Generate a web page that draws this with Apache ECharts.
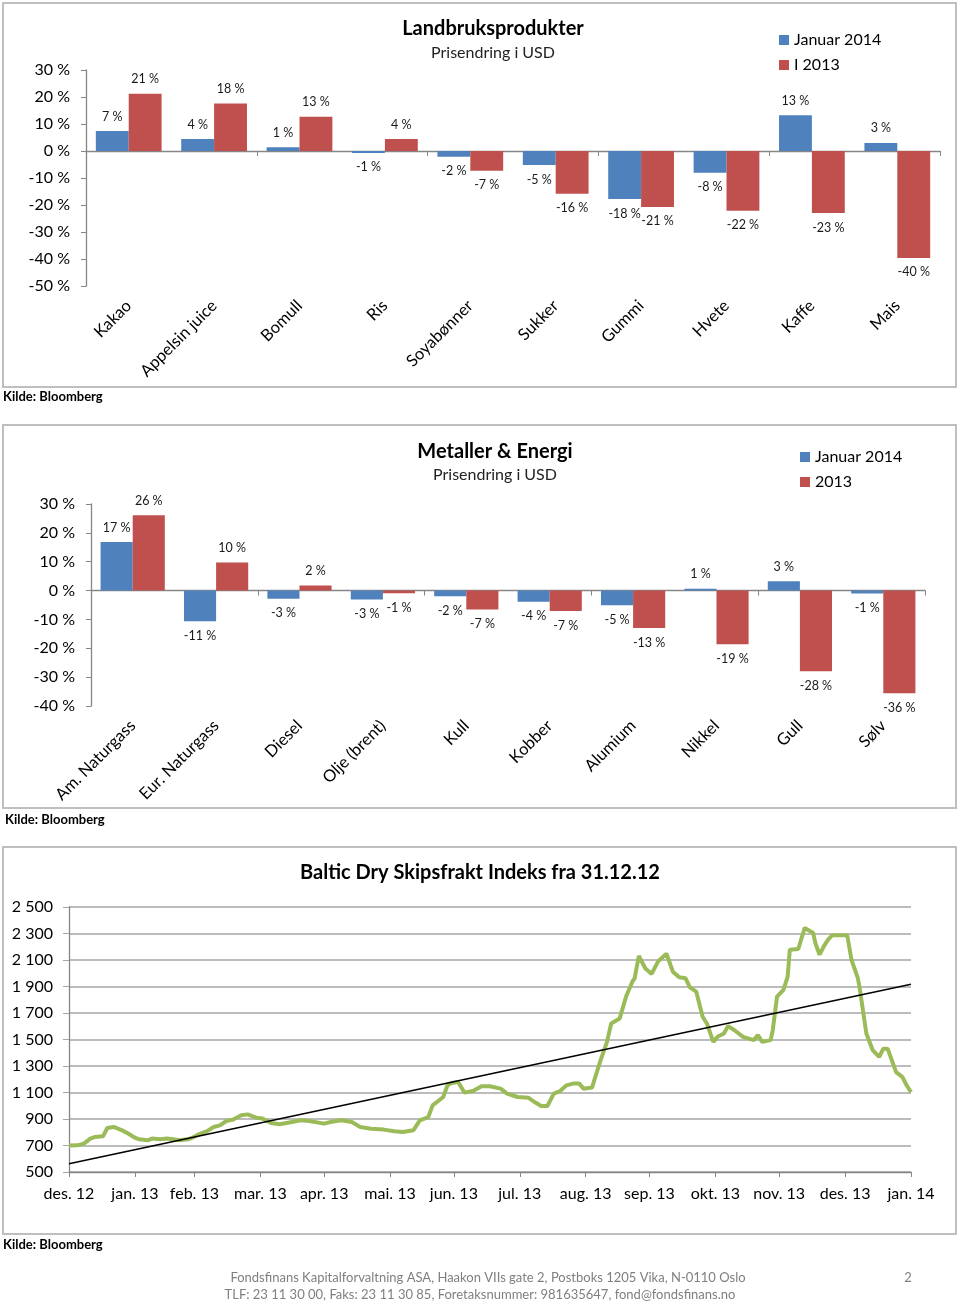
<!DOCTYPE html>
<html>
<head>
<meta charset="utf-8">
<script src="https://cdn.jsdelivr.net/npm/echarts@6/dist/echarts.min.js"></script>
<style>
html,body{margin:0;padding:0;background:#fff;}
#c{width:960px;height:1304px;}
</style>
</head>
<body>
<div id="c"></div>
<script>
// ---------- DATA ----------
const agriCategories = ['Kakao','Appelsin juice','Bomull','Ris','Soyabønner','Sukker','Gummi','Hvete','Kaffe','Mais'];
const agriJan2014 = [7.4, 4.4, 1.4, -0.7, -2.1, -5.2, -17.8, -8.1, 13.2, 3.0];
const agri2013    = [21.2, 17.6, 12.7, 4.4, -7.3, -15.8, -20.7, -22.1, -23.0, -39.6];

const metalCategories = ['Am. Naturgass','Eur. Naturgass','Diesel','Olje (brent)','Kull','Kobber','Alumium','Nikkel','Gull','Sølv'];
const metalJan2014 = [16.8, -10.6, -2.8, -3.1, -2.0, -3.9, -5.1, 0.6, 3.2, -1.0];
const metal2013    = [26.1, 9.7, 1.8, -0.9, -6.6, -7.1, -13.0, -18.6, -28.0, -35.6];

const bdiDates = [
 '2012-12-31','2013-01-04','2013-01-07','2013-01-10','2013-01-12','2013-01-16','2013-01-18','2013-01-21','2013-01-25','2013-01-28','2013-01-31',
 '2013-02-02','2013-02-06','2013-02-08','2013-02-12','2013-02-15','2013-02-18','2013-02-21','2013-02-25','2013-02-27',
 '2013-03-02','2013-03-06','2013-03-09','2013-03-12','2013-03-15','2013-03-18','2013-03-22','2013-03-25','2013-03-29',
 '2013-04-01','2013-04-05','2013-04-09','2013-04-13','2013-04-19','2013-04-23','2013-04-30',
 '2013-05-03','2013-05-08','2013-05-13','2013-05-17','2013-05-22','2013-05-28',
 '2013-06-02','2013-06-06','2013-06-11','2013-06-14','2013-06-18','2013-06-20','2013-06-25','2013-06-27','2013-06-29',
 '2013-07-02','2013-07-05','2013-07-09','2013-07-13','2013-07-17','2013-07-22','2013-07-25','2013-07-30',
 '2013-08-04','2013-08-07','2013-08-10','2013-08-13','2013-08-16','2013-08-19','2013-08-22','2013-08-25','2013-08-28','2013-08-30',
 '2013-09-03','2013-09-05','2013-09-07','2013-09-10','2013-09-12','2013-09-16','2013-09-19','2013-09-22','2013-09-23','2013-09-25','2013-09-28',
 '2013-10-01','2013-10-04','2013-10-08','2013-10-11','2013-10-14','2013-10-17','2013-10-19','2013-10-22','2013-10-25','2013-10-27','2013-10-30',
 '2013-11-01','2013-11-04','2013-11-06','2013-11-09','2013-11-13','2013-11-18','2013-11-20','2013-11-22','2013-11-26','2013-11-27','2013-11-29',
 '2013-12-02','2013-12-04','2013-12-05','2013-12-09','2013-12-12','2013-12-16','2013-12-17','2013-12-19','2013-12-21','2013-12-23','2013-12-25',
 '2014-01-01','2014-01-03','2014-01-06','2014-01-07','2014-01-10','2014-01-13','2014-01-16','2014-01-18','2014-01-20','2014-01-24','2014-01-27','2014-01-29','2014-01-31'
];
const bdiValues = [
 700,701,714,752,764,769,832,840,814,789,759,
 747,739,752,747,752,747,739,747,759,
 784,809,840,852,885,895,928,935,910,
 903,870,860,872,890,885,865,
 877,890,877,840,827,820,
 807,802,815,890,915,1003,1066,1154,1172,
 1179,1099,1111,1147,1147,1129,1091,1066,
 1061,1028,998,998,1091,1111,1154,1167,1167,1129,
 1137,1242,1343,1480,1621,1659,1824,1938,1960,2131,2038,
 1995,2088,2147,2012,1970,1962,1894,1861,1672,1621,1482,
 1520,1545,1601,1570,1520,1495,1533,1482,1495,1571,1824,
 1874,1975,2178,2183,2342,2304,2228,2140,2203,2254,2287,
 2287,2102,1963,1874,1545,1419,1368,1431,1431,1254,1216,1153,1103
];
const trendDates  = ['2012-12-31','2014-01-31'];
const trendValues = [563, 1917];

const monthNames = ['jan.','feb.','mar.','apr.','mai.','jun.','jul.','aug.','sep.','okt.','nov.','des.'];
const pctTicks = { agri: {min:-50, max:30, step:10}, metal: {min:-40, max:30, step:10} };
const bdiTicks = {min:500, max:2500, step:200};

// ---------- HELPERS ----------
const BLUE = '#4F81BD', RED = '#C0504D', GREEN = '#9BBB59', AXIS = '#868686';
const FONT = 'Lato, "Open Sans", sans-serif';

// daily category axis from first to last date
const dayCats = [];
(function(){
  let t = Date.UTC(2012,11,31), end = Date.UTC(2014,0,31);
  while (t <= end) { dayCats.push(new Date(t).toISOString().slice(0,10)); t += 86400000; }
})();
const dayIndex = {}; dayCats.forEach((d,i)=>dayIndex[d]=i);
function isMonthEnd(d){ const t = Date.parse(d+'T00:00:00Z') + 86400000; return new Date(t).getUTCDate() === 1; }
function monthLabel(d){ const m = +d.slice(5,7); return monthNames[m-1] + ' ' + d.slice(2,4); }
function thousands(v){ return v >= 1000 ? Math.floor(v/1000) + ' ' + String(v%1000).padStart(3,'0') : String(v); }

function barItems(arr){ return arr.map(v => ({ value: v, label: { position: v >= 0 ? 'top' : 'bottom' } })); }
const barLabel = { show: true, distance: 8, fontSize: 12.5, color: '#1a1a1a', fontFamily: FONT,
  formatter: p => Math.round(p.value) + ' %' };

function yPct(grid, t){
  return { type:'value', gridIndex: grid, min: t.min, max: t.max, interval: t.step,
    axisLine:{show:true, lineStyle:{color:AXIS, width:1.3}},
    axisTick:{show:true, length:5, lineStyle:{color:AXIS}},
    splitLine:{show:false},
    axisLabel:{fontSize:16, color:'#000', margin:16, fontFamily:FONT, formatter: v => v + ' %'} };
}
function xZero(grid, cats){
  return { type:'category', gridIndex: grid, data: cats,
    axisLine:{onZero:true, lineStyle:{color:AXIS, width:1.3}},
    axisTick:{show:true, length:5, lineStyle:{color:AXIS}},
    axisLabel:{show:false} };
}
function xLabels(grid, cats){
  return { type:'category', gridIndex: grid, data: cats, position:'bottom',
    axisLine:{show:false, onZero:false}, axisTick:{show:false},
    axisLabel:{interval:0, rotate:45, fontSize:16.5, color:'#000', margin:17, fontFamily:FONT} };
}

const chart = echarts.init(document.getElementById('c'), null, {renderer:'canvas'});

function txt(text, x, y, opts){
  return { type:'text', silent:true, style: Object.assign({ text, x, y, fill:'#000',
    fontFamily: FONT, fontSize: 16, align:'left', textAlign:'left',
    verticalAlign:'middle', textVerticalAlign:'middle' }, opts || {}) };
}
function box(y1, y2){
  return { type:'rect', silent:true, shape:{x:3, y:y1, width:953, height:y2-y1},
    style:{fill:'none', stroke:'#BFBFBF', lineWidth:2} };
}

const option = {
  animation: false,
  textStyle: { fontFamily: FONT },
  grid: [
    { left: 86, top: 70, width: 854, height: 216 },
    { left: 91, top: 504, width: 834, height: 202 },
    { left: 69, top: 907, width: 842, height: 265 }
  ],
  legend: [
    { orient:'vertical', left: 774, top: 27, itemWidth: 10, itemHeight: 10, itemGap: 9,
      icon:'rect', data:['Januar 2014','I 2013'], textStyle:{fontSize:16, color:'#000', fontFamily:FONT} },
    { orient:'vertical', left: 795, top: 444, itemWidth: 10, itemHeight: 10, itemGap: 9,
      icon:'rect', data:['Januar 2014','2013'], textStyle:{fontSize:16, color:'#000', fontFamily:FONT} }
  ],
  xAxis: [
    xZero(0, agriCategories), xLabels(0, agriCategories),
    xZero(1, metalCategories), xLabels(1, metalCategories),
    { type:'category', gridIndex: 2, data: dayCats, boundaryGap: false,
      axisLine:{onZero:false, lineStyle:{color:AXIS, width:1.3}},
      axisTick:{show:true, length:5, interval:(i,v)=>i===0 || isMonthEnd(v), lineStyle:{color:AXIS}},
      axisLabel:{interval:(i,v)=>i===0 || isMonthEnd(v), fontSize:16, color:'#000', margin:14,
        fontFamily:FONT, formatter: v => monthLabel(v), showMinLabel:true, showMaxLabel:true} }
  ],
  yAxis: [
    yPct(0, pctTicks.agri),
    yPct(1, pctTicks.metal),
    { type:'value', gridIndex: 2, min: bdiTicks.min, max: bdiTicks.max, interval: bdiTicks.step,
      axisLine:{show:true, lineStyle:{color:AXIS, width:1.3}},
      axisTick:{show:true, length:6, lineStyle:{color:'#A6A6A6'}},
      splitLine:{show:true, lineStyle:{color:'#A6A6A6', width:1.5}},
      axisLabel:{fontSize:16, color:'#000', margin:16, fontFamily:FONT, formatter: thousands} }
  ],
  series: [
    { type:'bar', name:'Januar 2014', xAxisIndex:0, yAxisIndex:0, data: barItems(agriJan2014),
      itemStyle:{color:BLUE}, barGap:'0%', barCategoryGap:'23%', label: barLabel },
    { type:'bar', name:'I 2013', xAxisIndex:0, yAxisIndex:0, data: barItems(agri2013),
      itemStyle:{color:RED}, barGap:'0%', barCategoryGap:'23%', label: barLabel },
    { type:'bar', name:'Januar 2014', xAxisIndex:2, yAxisIndex:1, data: barItems(metalJan2014),
      itemStyle:{color:BLUE}, barGap:'0%', barCategoryGap:'23%', label: barLabel },
    { type:'bar', name:'2013', xAxisIndex:2, yAxisIndex:1, data: barItems(metal2013),
      itemStyle:{color:RED}, barGap:'0%', barCategoryGap:'23%', label: barLabel },
    { type:'line', name:'Baltic Dry', xAxisIndex:4, yAxisIndex:2, showSymbol:false, symbol:'none',
      data: bdiDates.map((d,i)=>[dayIndex[d], bdiValues[i]]),
      lineStyle:{color:GREEN, width:4}, itemStyle:{color:GREEN}, z:3 },
    { type:'line', name:'Trend', xAxisIndex:4, yAxisIndex:2, showSymbol:false, symbol:'none',
      data: trendDates.map((d,i)=>[dayIndex[d], trendValues[i]]),
      lineStyle:{color:'#000', width:1.5}, itemStyle:{color:'#000'}, z:4 }
  ],
  graphic: [
    box(3, 387), box(425, 808), box(847, 1234),
    txt('Landbruksprodukter', 493, 29, {fontSize:20, fontWeight:'bold', align:'center', textAlign:'center'}),
    txt('Prisendring i USD', 493, 53, {fontSize:16, align:'center', textAlign:'center', fill:'#222'}),
    txt('Metaller & Energi', 495, 452, {fontSize:20, fontWeight:'bold', align:'center', textAlign:'center'}),
    txt('Prisendring i USD', 495, 475, {fontSize:16, align:'center', textAlign:'center', fill:'#222'}),
    txt('Baltic Dry Skipsfrakt Indeks fra 31.12.12', 480, 873, {fontSize:20, fontWeight:'bold', align:'center', textAlign:'center'}),
    txt('Kilde: Bloomberg', 3, 397, {fontSize:13, fontWeight:'bold'}),
    txt('Kilde: Bloomberg', 5, 820, {fontSize:13, fontWeight:'bold'}),
    txt('Kilde: Bloomberg', 3, 1245, {fontSize:13, fontWeight:'bold'}),
    txt('Fondsfinans Kapitalforvaltning ASA, Haakon VIIs gate 2, Postboks 1205 Vika, N-0110 Oslo', 488, 1278,
        {fontSize:13, fill:'#7F7F7F', align:'center', textAlign:'center'}),
    txt('TLF: 23 11 30 00, Faks: 23 11 30 85, Foretaksnummer: 981635647, fond@fondsfinans.no', 480, 1295,
        {fontSize:13, fill:'#7F7F7F', align:'center', textAlign:'center'}),
    txt('2', 908, 1278, {fontSize:13, fill:'#7F7F7F', align:'center', textAlign:'center'})
  ]
};
chart.setOption(option);
</script>
</body>
</html>
